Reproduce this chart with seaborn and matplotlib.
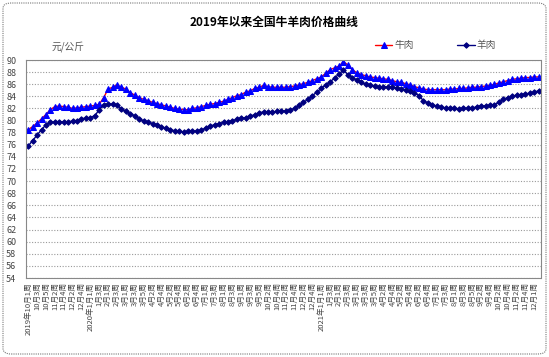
import pandas as pd
import matplotlib
matplotlib.use('Agg')
import matplotlib.pyplot as plt
from matplotlib.patches import FancyBboxPatch
import seaborn as sns

# weekly prices, 2019-10 week 1 onward (元/公斤)
start_week = "2019-10-01"
beef = [78.5, 79.0, 79.6, 80.3, 81.0, 81.8, 82.3, 82.4, 82.3, 82.2,
        82.0, 82.1, 82.2, 82.3, 82.4, 82.5, 82.7, 83.8, 85.2, 85.5,
        85.9, 85.5, 85.2, 84.6, 84.2, 83.8, 83.5, 83.3, 83.0, 82.8,
        82.6, 82.4, 82.2, 82.0, 81.9, 81.8, 81.8, 82.0, 82.1, 82.3,
        82.5, 82.7, 82.8, 83.0, 83.2, 83.5, 83.8, 84.1, 84.3, 84.7,
        84.9, 85.3, 85.5, 85.8, 85.6, 85.5, 85.5, 85.5, 85.5, 85.6,
        85.7, 85.9, 86.1, 86.3, 86.6, 86.9, 87.2, 87.8, 88.4, 88.7,
        89.0, 89.7, 89.2, 88.4, 87.9, 87.6, 87.4, 87.2, 87.1, 87.0,
        86.9, 86.8, 86.6, 86.4, 86.3, 86.1, 85.9, 85.6, 85.4, 85.2,
        85.1, 85.1, 85.1, 85.1, 85.1, 85.2, 85.2, 85.3, 85.3, 85.4,
        85.5, 85.5, 85.6, 85.7, 85.8, 86.0, 86.2, 86.4, 86.6, 86.8,
        86.9, 87.0, 87.1, 87.1, 87.2, 87.2]
mutton = [75.8, 76.7, 77.6, 78.5, 79.3, 79.7, 79.8, 79.8, 79.8, 79.8,
          79.9, 80.0, 80.3, 80.4, 80.5, 80.8, 81.8, 82.6, 82.7, 82.7,
          82.6, 81.9, 81.5, 81.1, 80.8, 80.3, 79.9, 79.7, 79.5, 79.3,
          79.0, 78.7, 78.5, 78.3, 78.2, 78.1, 78.2, 78.2, 78.3, 78.4,
          78.8, 79.1, 79.3, 79.5, 79.7, 79.8, 80.0, 80.2, 80.4, 80.5,
          80.8, 80.9, 81.3, 81.4, 81.4, 81.4, 81.5, 81.6, 81.6, 81.8,
          82.0, 82.5, 83.0, 83.5, 84.1, 84.7, 85.3, 85.9, 86.4, 87.0,
          87.7, 88.3, 87.6, 87.1, 86.7, 86.3, 86.0, 85.8, 85.7, 85.6,
          85.6, 85.5, 85.5, 85.4, 85.2, 85.1, 84.9, 84.6, 84.1, 83.3,
          82.9, 82.6, 82.4, 82.2, 82.1, 82.0, 82.0, 81.9, 82.0, 82.0,
          82.0, 82.3, 82.4, 82.4, 82.5, 82.6, 83.0, 83.5, 83.8, 84.0,
          84.2, 84.3, 84.4, 84.5, 84.7, 84.9]
yticks = list(range(54, 91, 2))

dates = pd.date_range(start_week, periods=len(beef), freq="7D")
labels = []
prev_year = None
for d in dates:
    txt = f"{d.month}月{(d.day - 1) // 7 + 1}周"
    if d.year != prev_year:
        txt = f"{d.year}年" + txt
        prev_year = d.year
    labels.append(txt)

df = pd.DataFrame({"idx": range(len(beef)), "牛肉": beef, "羊肉": mutton})

sns.set_theme(style="white")
plt.rcParams['font.family'] = ['Noto Sans CJK SC', 'DejaVu Sans']

fig = plt.figure(figsize=(5.49, 3.57), dpi=100)
fig.patches.append(FancyBboxPatch((3 / 549, 3 / 357), 543 / 549, 351 / 357,
                                  boxstyle="round,pad=0,rounding_size=0.015",
                                  transform=fig.transFigure, fill=False,
                                  edgecolor="#777777", linestyle=(0, (1, 1)), lw=0.8))
ax = fig.add_axes([26 / 549, 1 - 278 / 357, (541 - 26) / 549, (278 - 60) / 357])

sns.lineplot(data=df, x="idx", y="牛肉", ax=ax, color="red", lw=1.0, marker="^",
             markersize=5, markerfacecolor="blue", markeredgecolor="blue", label="牛肉")
sns.lineplot(data=df, x="idx", y="羊肉", ax=ax, color="#000080", lw=1.0, marker="D",
             markersize=2.8, markerfacecolor="#000080", markeredgecolor="#000080", label="羊肉")

ax.set_xlim(-0.5, len(beef) - 0.5)
ax.set_ylim(54, 90)
ax.set_yticks(yticks)
ax.set_yticklabels([str(v) for v in yticks], fontsize=6.5, color="#444444")
ax.set_xticks(range(len(beef)))
ax.set_xticklabels([t if i % 2 == 0 else "" for i, t in enumerate(labels)],
                   rotation=90, fontsize=5.5, color="#444444")
ax.tick_params(axis='x', direction='in', length=2.5, width=0.6, color="#888888", pad=3)
ax.tick_params(axis='y', length=0, pad=7)
ax.grid(axis='y', color="#9a9a9a", linestyle=(0, (1, 1.5)), lw=0.8)
for s in ax.spines.values():
    s.set_color("#888888")
    s.set_linestyle((0, (1, 1)))
    s.set_linewidth(0.8)
ax.set_xlabel("")
ax.set_ylabel("")

fig.text(0.5, 1 - 22 / 357, "2019年以来全国牛羊肉价格曲线", ha="center", va="center",
         fontsize=8.5, fontweight="bold", color="black")
fig.text(52 / 549, 1 - 47 / 357, "元/公斤", ha="left", va="center", fontsize=7, color="#555555")

ax.get_legend().remove()
fig.legend(loc="center left", bbox_to_anchor=(366 / 549, 1 - 45 / 357), ncol=2,
           frameon=False, fontsize=7, handlelength=1.8, handletextpad=0.2,
           columnspacing=4.5, labelcolor="#555555")

fig.savefig("out.png", dpi=100)
